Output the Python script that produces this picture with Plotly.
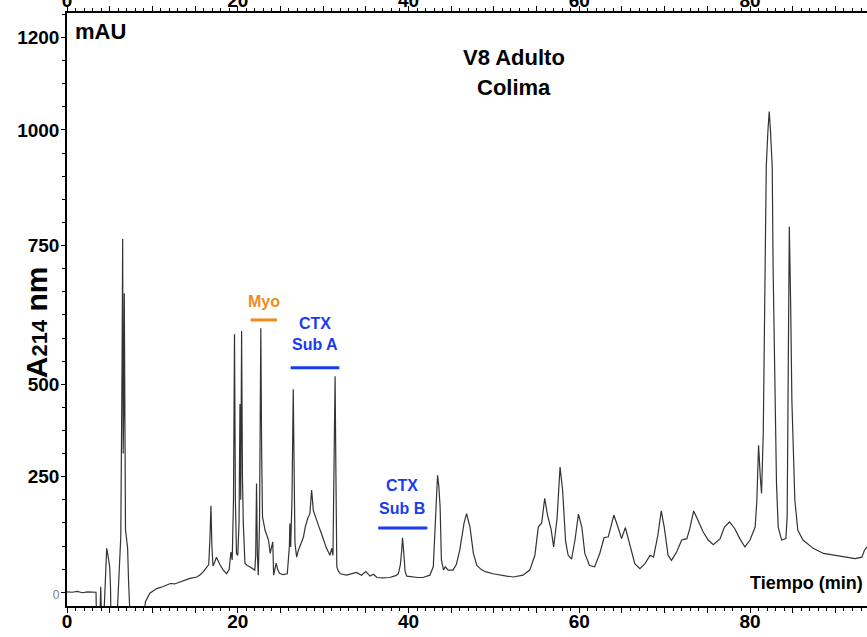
import plotly.graph_objects as go

# ---- chromatogram ----
time_min = [0, 0.6, 1.2, 1.8, 2.4, 3.0, 3.4, 3.45, 3.85, 3.95, 4.05, 4.3, 4.45, 4.65, 4.8, 5.0, 5.1, 5.15,
            5.85, 6.1, 6.3, 6.45, 6.52, 6.58, 6.65, 6.71, 6.76, 6.85, 6.95, 7.1, 7.2, 7.4,
            8.9, 9.2, 9.7, 10.5, 11.2, 12.1, 12.6, 13.2, 13.8, 14.4, 15.2, 15.6, 16.0, 16.35, 16.6, 16.75,
            16.86, 16.97, 17.1, 17.3, 17.5, 17.7, 17.9, 18.3, 18.7, 19.0, 19.2, 19.35, 19.5, 19.62, 19.72,
            19.85, 20.0, 20.15, 20.26, 20.35, 20.45, 20.55, 20.65, 20.84, 21.1, 21.4, 21.7, 22.0, 22.1,
            22.2, 22.3, 22.4, 22.55, 22.7, 22.8, 22.9, 23.2, 23.6, 23.8, 24.0, 24.1, 24.2, 24.35, 24.5,
            24.7, 24.9, 25.3, 25.8, 26.05, 26.1, 26.2, 26.35, 26.5, 26.6, 26.7, 26.9, 27.1, 27.4, 27.7,
            27.9, 28.2, 28.45, 28.65, 28.85, 29.2, 29.5, 29.8, 30.1, 30.4, 30.8, 31.0, 31.15, 31.28, 31.4,
            31.5, 31.6, 31.8, 32.0, 32.75, 33.4, 33.9, 34.5, 35.0, 35.5, 35.9, 36.3, 37.0, 37.8, 38.5,
            38.8, 39.05, 39.2, 39.3, 39.45, 39.6, 39.8, 40.55, 41.1, 41.7, 42.5, 42.9, 43.1, 43.25, 43.4,
            43.55, 43.7, 43.85, 44.0, 44.1, 44.3, 44.65, 45.2, 45.6, 46.0, 46.5, 46.8, 47.2, 47.6, 48.0,
            48.6, 49.1, 49.9, 50.7, 51.5, 52.3, 53.4, 54.2, 54.8, 55.2, 55.6, 55.95, 56.3, 56.7, 57.0,
            57.4, 57.75, 58.05, 58.4, 58.7, 59.1, 59.5, 59.9, 60.3, 60.65, 61.2, 61.8, 62.4, 62.9, 63.4,
            63.7, 64.05, 64.55, 64.95, 65.4, 65.9, 66.5, 67.1, 67.7, 68.3, 68.7, 69.2, 69.6, 69.95, 70.4,
            70.8, 71.4, 72.0, 72.6, 72.95, 73.4, 73.9, 74.5, 75.1, 75.7, 76.5, 77.0, 77.6, 78.2, 78.8,
            79.4, 80.0, 80.6, 80.8, 81.0, 81.2, 81.35, 81.55, 81.7, 81.9, 82.1, 82.25, 82.4, 82.6, 82.7,
            82.9, 83.1, 83.3, 83.7, 84.2, 84.35, 84.45, 84.6, 84.75, 84.9, 85.25, 85.6, 86.2, 87.4, 88.6,
            90.1, 92.3, 93.1, 93.4, 93.7]
mau = [1, 0, 2, -1, 1, 0, 0, -60, -60, 12, -60, -60, 20, 95, 80, 55, 10, -60,
       -60, 37, 120, 500, 764, 300, 400, 647, 250, 136, 120, 95, 30, -60,
       -60, -20, -2, 8, 12, 19, 18, 22, 25, 30, 33, 38, 45, 55, 60, 120,
       187, 100, 57, 65, 76, 68, 60, 48, 40, 50, 87, 70, 200, 558, 200,
       84, 80, 150, 407, 200, 565, 250, 149, 63, 58, 55, 52, 48, 80,
       235, 80, 37, 150, 571, 300, 163, 134, 113, 84, 100, 109, 37, 55, 63,
       48, 41, 38, 40, 100, 149, 98, 200, 439, 200, 106, 76, 91, 105, 120,
       141, 160, 170, 221, 177, 156, 142, 127, 110, 95, 80, 95, 80, 250, 467,
       250, 55, 45, 40, 37, 40, 43, 37, 45, 35, 39, 32, 31, 32, 36,
       40, 60, 91, 118, 84, 45, 35, 33, 32, 32, 37, 55, 149, 220, 253,
       230, 185, 70, 50, 48, 55, 48, 48, 60, 91, 149, 170, 141, 84, 58,
       48, 44, 40, 37, 35, 33, 37, 48, 80, 141, 150, 203, 165, 136, 98,
       160, 271, 220, 110, 80, 72, 113, 169, 141, 84, 58, 55, 84, 118, 120,
       141, 167, 140, 116, 140, 102, 62, 51, 62, 80, 76, 123, 176, 141, 80,
       69, 87, 113, 116, 138, 176, 156, 131, 113, 103, 116, 141, 152, 138, 116,
       98, 113, 141, 199, 318, 250, 214, 344, 632, 920, 1000, 1040, 996, 920, 704,
       416, 235, 141, 113, 116, 163, 416, 791, 632, 416, 199, 134, 113, 95, 84,
       80, 73, 76, 91, 98]

# ---- axes ----
x_range = [0, 93.7]
y_range = [-29.7, 1253]
x_tick_vals = list(range(0, 95, 5))
x_tick_text = [str(v) if v % 20 == 0 else '' for v in x_tick_vals]
y_tick_vals = [0, 250, 450, 750, 1000, 1200]
y_tick_text = ['<span style="font-size:12px;font-weight:normal;color:#808080">0</span>',
               '250', '500', '750', '1000', '1200']

# ---- fraction labels ----
frac_text = ['Myo', 'CTX', 'Sub A', 'CTX', 'Sub B']
frac_x = [23.07, 29.0, 29.0, 39.2, 39.2]
frac_y = [630, 582, 535, 232, 182]
frac_color = ['#f08a1c', '#1a3cf0', '#1a3cf0', '#1a3cf0', '#1a3cf0']
bar_x0 = [21.5, 26.2, 36.45]
bar_x1 = [24.6, 31.9, 42.2]
bar_y = [589, 485.5, 139]
bar_color = ['#f08a1c', '#1a3cf0', '#1a3cf0']

FONT = 'Arial, Liberation Sans, sans-serif'

fig = go.Figure()
fig.add_trace(go.Scatter(x=time_min, y=mau, mode='lines',
                         line=dict(color='#333333', width=1.2), showlegend=False,
                         hoverinfo='skip'))
fig.add_trace(go.Scatter(x=[0], y=[0], xaxis='x2', mode='markers',
                         marker=dict(opacity=0), showlegend=False, hoverinfo='skip'))

axis_common = dict(range=x_range, tickmode='array', tickvals=x_tick_vals, ticktext=x_tick_text,
                   ticks='outside', ticklen=5, tickwidth=1, tickcolor='black', automargin=False,
                   ticklabelstandoff=-8,
                   minor=dict(dtick=1, tick0=0, ticks='outside', ticklen=3, tickcolor='black'),
                   showline=True, linecolor='black', linewidth=1.5, showgrid=False, zeroline=False,
                   tickfont=dict(family=FONT, size=19, color='black', weight='bold'))

fig.update_layout(
    width=867, height=637,
    margin=dict(l=67, r=0, t=13, b=31, autoexpand=False),
    paper_bgcolor='white', plot_bgcolor='white',
    xaxis=dict(**axis_common),
    xaxis2=dict(**axis_common, overlaying='x', side='top'),
    yaxis=dict(range=y_range, tickmode='array', tickvals=y_tick_vals, ticktext=y_tick_text,
               ticks='outside', ticklen=4, tickcolor='black', automargin=False,
               ticklabelstandoff=-2,
               minor=dict(dtick=50, tick0=0, ticks='outside', ticklen=3, tickcolor='black'),
               showline=True, linecolor='black', linewidth=1.5, showgrid=False, zeroline=False,
               tickfont=dict(family=FONT, size=19, color='black', weight='bold')),
)

for t, x, y, c in zip(frac_text, frac_x, frac_y, frac_color):
    fig.add_annotation(x=x, y=y, text='<b>%s</b>' % t, showarrow=False,
                       font=dict(family=FONT, size=16, color=c), xanchor='center', yanchor='middle')
for x0, x1, y, c in zip(bar_x0, bar_x1, bar_y, bar_color):
    fig.add_shape(type='line', x0=x0, x1=x1, y0=y, y1=y, xref='x', yref='y',
                  line=dict(color=c, width=3))

fig.add_annotation(x=52.3, y=1156, text='<b>V8 Adulto</b>', showarrow=False,
                   font=dict(family=FONT, size=22, color='black'))
fig.add_annotation(x=52.3, y=1091, text='<b>Colima</b>', showarrow=False,
                   font=dict(family=FONT, size=22, color='black'))
fig.add_annotation(x=0.7, y=1214, text='<b>mAU</b>', showarrow=False, xanchor='left',
                   font=dict(family=FONT, size=22, color='black'))
fig.add_annotation(x=93.5, y=19.5, text='<b>Tiempo (min)</b>', showarrow=False, xanchor='right',
                   font=dict(family=FONT, size=18, color='black'))
fig.add_annotation(xref='paper', yref='paper', x=-0.061, y=0.478, textangle=-90,
                   text='<b>A<span style="font-size:22px">214</span> nm</b>', showarrow=False,
                   font=dict(family=FONT, size=30, color='black'))

fig.write_html('out.html', config={'displayModeBar': False},
               post_script="document.body.style.margin='0';")
